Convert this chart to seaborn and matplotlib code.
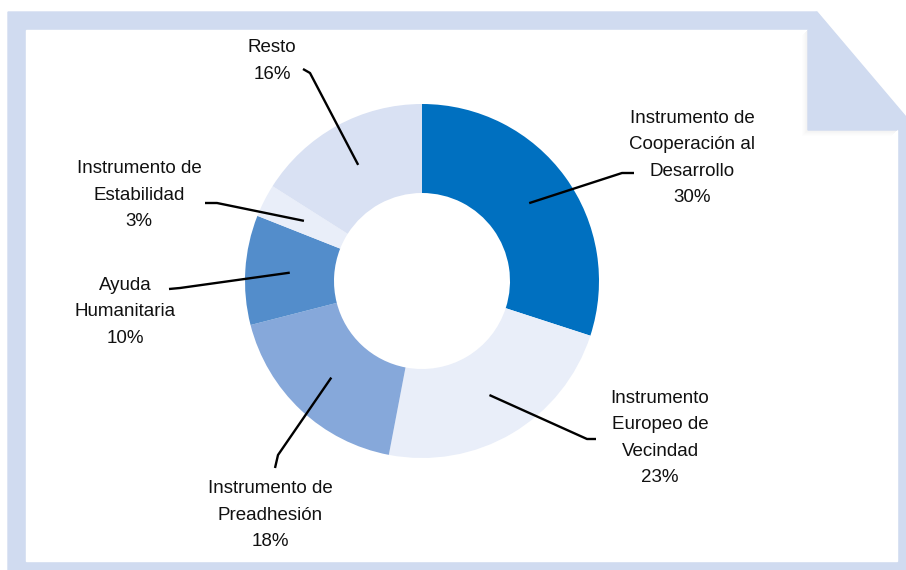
import numpy as np
import matplotlib
matplotlib.use("Agg")
import matplotlib.pyplot as plt
from matplotlib.patches import Polygon
import seaborn as sns

# datos del gráfico
categorias = ["Instrumento de\nCooperación al\nDesarrollo", "Instrumento\nEuropeo de\nVecindad",
              "Instrumento de\nPreadhesión", "Ayuda\nHumanitaria",
              "Instrumento de\nEstabilidad", "Resto"]
porcentajes = [30, 23, 18, 10, 3, 16]
colores = ["#0070C0", "#E9EEF9", "#86A8DA", "#538DCB", "#E9EEF9", "#D9E1F3"]

# posiciones de las etiquetas (pixeles) y codos de las líneas guía
pos_texto = [(692, 158), (660, 438), (270, 515), (125, 312), (139, 195), (272, 61)]
codos = [[(622, 173), (634, 173)], [(587, 439), (596, 439)], [(278, 455), (275, 468)],
         [(180, 288), (169, 289)], [(217, 203), (205, 203)], [(310, 73), (303, 69)]]

sns.set_style("white")
plt.rcParams["font.family"] = ["Liberation Sans", "DejaVu Sans"]

fig = plt.figure(figsize=(9.06, 5.70), dpi=100)
ax = fig.add_axes([0, 0, 1, 1])

marco = "#D0DBF0"
# marco con esquina doblada
ax.add_patch(Polygon([(8, 12), (817, 12), (906, 117), (906, 570), (8, 570)],
                     closed=True, color=marco, zorder=0))
ax.add_patch(Polygon([(26, 30), (808, 30), (808, 130), (897, 130), (897, 561), (26, 561)],
                     closed=True, color="white", zorder=1))
# sombra de la solapa
for k in range(6):
    a = 0.05 * (1 - k / 6)
    ax.add_patch(Polygon([(808 - k, 30 + k), (808 - k, 130 + k), (897 - k, 130 + k),
                          (897 - k, 130 + k + 1), (808 - k - 1, 130 + k + 1), (808 - k - 1, 30 + k)],
                         closed=True, color="black", alpha=a, lw=0, zorder=1.5))
ax.add_patch(Polygon([(808, 30), (816, 30), (816, 12), (897, 117), (897, 130), (808, 130)],
                     closed=True, color=marco, zorder=2))

centro = (422, 281)
radio = 177
ancho = 89
wedges, _ = ax.pie(porcentajes, colors=colores, startangle=-90, counterclock=True,
                   center=centro, radius=radio,
                   wedgeprops=dict(width=ancho, linewidth=0), frame=True)
for w in wedges:
    w.set_zorder(3)

r_medio = radio - ancho / 2
for w, txt, pct, (tx, ty), codo in zip(wedges, categorias, porcentajes, pos_texto, codos):
    ang = np.deg2rad((w.theta1 + w.theta2) / 2)
    x0 = centro[0] + r_medio * np.cos(ang)
    y0 = centro[1] + r_medio * np.sin(ang)
    xs = [x0] + [p[0] for p in codo]
    ys = [y0] + [p[1] for p in codo]
    ax.plot(xs, ys, color="black", lw=1.7, zorder=4, solid_capstyle="butt")
    ax.text(tx, ty, f"{txt}\n{pct}%", ha="center", va="center", fontsize=13.5,
            linespacing=1.72, color="#111111", zorder=5)

ax.set_xlim(0, 906)
ax.set_ylim(570, 0)
ax.set_aspect("auto")
ax.axis("off")

fig.savefig("out.png", dpi=100)
